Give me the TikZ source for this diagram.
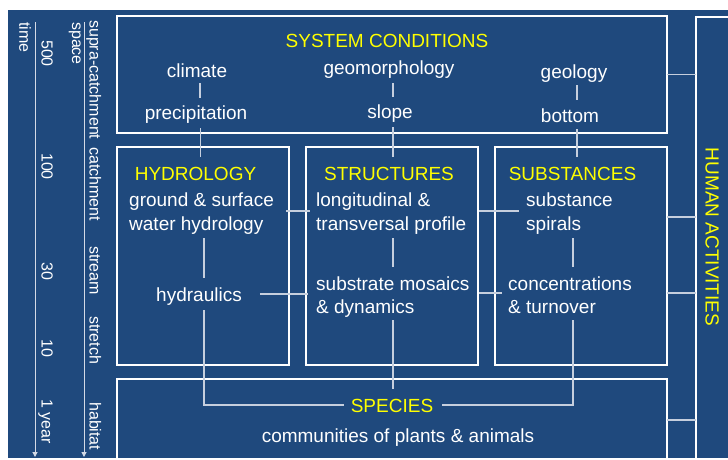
\documentclass[tikz,border=0pt]{standalone}
\usepackage{fontspec}
\setmainfont{Liberation Sans}
\usetikzlibrary{calc,arrows.meta}
\definecolor{bgblue}{RGB}{31,73,125}
\definecolor{hiyellow}{RGB}{255,255,0}
\definecolor{linkgray}{RGB}{198,207,222}
\definecolor{axisgray}{RGB}{212,218,230}
\newcommand\diagfont{\fontsize{19}{23}\selectfont}
\newcommand\axisfont{\fontsize{16}{19}\selectfont}
\begin{document}
\begin{tikzpicture}[x=1pt,y=-1pt,
  panel/.style={draw=white, line width=2.4pt, outer sep=0pt, inner sep=0pt},
  txt/.style={text=white, font=\diagfont, inner xsep=0pt, inner ysep=2pt,
              text height=14pt, text depth=4pt, anchor=base},
  ttl/.style={txt, text=hiyellow},
  lbl/.style={text=white, font=\axisfont, inner sep=0pt, rotate=-90, anchor=base west},
  conn/.style={draw=linkgray, line width=1.2pt},
  axisln/.style={draw=axisgray, line width=1pt, -{Triangle[width=5pt,length=5pt]}}]

\useasboundingbox (0,0) rectangle (728,459);
\fill[white] (0,0) rectangle (728,459);
\fill[bgblue] (8,10) rectangle (728,458);

\begin{scope}
\clip (8,10) rectangle (728,458);

% ---------- frames ----------
\node[panel, minimum width=550pt, minimum height=117pt] (sys) at (392,74.5) {};
\node[panel, minimum width=172pt, minimum height=218pt] (hyd) at (203,256) {};
\node[panel, minimum width=172pt, minimum height=218pt] (str) at (392,256) {};
\node[panel, minimum width=172pt, minimum height=218pt] (sub) at (581,256) {};
\node[panel, minimum width=550pt, minimum height=141pt] (spe) at (392,449.5) {};
\node[panel, minimum width=84pt, minimum height=503pt] (ha) at (738,268.5) {};

% ---------- system conditions ----------
\node[ttl] (sysT) at (387,47) {SYSTEM CONDITIONS};
\node[txt] (climate) at (197,77) {climate};
\node[txt] (geomorph) at (389,74) {geomorphology};
\node[txt] (geology) at (574,78) {geology};
\node[txt] (precip) at (196,119) {precipitation};
\node[txt] (slope) at (390,118) {slope};
\node[txt] (bottom) at (570,122) {bottom};

% ---------- hydrology ----------
\node[ttl] (hydT) at (195.5,180) {HYDROLOGY};
\node[txt, anchor=base west] (gs1) at (129,206) {ground \& surface};
\node[txt, anchor=base west] (gs2) at (129,230) {water hydrology};
\node[txt] (hydraulics) at (199,301) {hydraulics};

% ---------- structures ----------
\node[ttl] (strT) at (389,180) {STRUCTURES};
\node[txt, anchor=base west] (lt1) at (316,206) {longitudinal \&};
\node[txt, anchor=base west] (lt2) at (316,230) {transversal profile};
\node[txt, anchor=base west] (sm1) at (316,290) {substrate mosaics};
\node[txt, anchor=base west] (sm2) at (316,313) {\& dynamics};

% ---------- substances ----------
\node[ttl] (subT) at (572.5,180) {SUBSTANCES};
\node[txt, anchor=base west] (ss1) at (526,206) {substance};
\node[txt, anchor=base west] (ss2) at (526,230) {spirals};
\node[txt, anchor=base west] (ct1) at (508,290) {concentrations};
\node[txt, anchor=base west] (ct2) at (508,313) {\& turnover};

% ---------- species ----------
\node[ttl] (speT) at (392,412) {SPECIES};
\node[txt] (comm) at (398,442) {communities of plants \& animals};

% ---------- human activities ----------
\node[ttl, rotate=-90, anchor=center, text depth=0pt] (haT) at (712.5,237) {HUMAN ACTIVITIES};

% ---------- links inside system conditions ----------
\draw[conn] ($(climate.south)+(3,0)$) -- ($(climate.south |- precip.north)+(3,-5)$);
\draw[conn] ($(geomorph.south)+(4,3)$) -- ($(geomorph.south |- slope.north)+(4,-5)$);
\draw[conn] ($(geology.south)+(3,1)$) -- ($(geology.south |- bottom.north)+(3,-6)$);

% ---------- links down into the three compartments ----------
\draw[conn] ($(precip.south)+(4.5,3)$) -- ($(precip.south |- hydT.north)+(4.5,-7)$);
\draw[conn] ($(slope.south)+(3,3)$) -- ($(slope.south |- strT.north)+(3,-7)$);
\draw[conn] ($(bottom.south)+(7,1)$) -- ($(bottom.south |- subT.north)+(7,-7)$);

% ---------- links within compartments ----------
\draw[conn] ($(hydraulics.north |- gs2.south)+(5,2)$) -- ($(hydraulics.north)+(5,-7)$);
\draw[conn] ($(strT.south |- lt2.south)+(4,2)$) -- ($(strT.south |- sm1.north)+(4,-7)$);
\draw[conn] ($(subT.south |- ss2.south)+(0.5,2)$) -- ($(subT.south |- ct1.north)+(0.5,-7)$);

% ---------- links between compartments ----------
\draw[conn] ($(hyd.east)+(-3,-45)$) -- ($(str.west)+(4,-45)$);
\draw[conn] ($(str.east)+(1,-45)$) -- ($(ss1.west |- str.east)+(-7,-45)$);
\draw[conn] ($(hydraulics.east |- hyd.east)+(18,38)$) -- ($(str.west)+(2,38)$);
\draw[conn] ($(str.east)+(1,37)$) -- ($(ct1.west |- str.east)+(-6,37)$);

% ---------- links down to species ----------
\draw[conn] ($(hydraulics.south)+(5,3)$) |- ($(speT.west)+(-7,-2)$);
\draw[conn] ($(speT.north |- sm2.south)+(1,1)$) -- ($(speT.north)+(1,-7)$);
\draw[conn] ($(subT.south |- ct2.south)+(0.5,1)$) |- ($(speT.east)+(9,-2)$);

% ---------- links to human activities ----------
\draw[conn] (sys.east) -- (sys.east -| ha.west);
\draw[conn] ($(sub.east)+(0,-39)$) -- ($(sub.east -| ha.west)+(0,-39)$);
\draw[conn] ($(sub.east)+(0,37)$) -- ($(sub.east -| ha.west)+(0,37)$);
\draw[conn] ($(spe.east)+(0,-29.5)$) -- ($(spe.east -| ha.west)+(0,-29.5)$);

% ---------- scale axes ----------
\coordinate (tTop) at (35,22);
\coordinate (tEnd) at (35,457);
\coordinate (sTop) at (84,22);
\coordinate (sEnd) at (84,457);
\draw[axisln] (tTop) -- (tEnd);
\draw[axisln] (sTop) -- (sEnd);

\node[lbl] (lTime) at (19.5,22) {time};
\node[lbl] (lSpace) at (72,22) {space};
\node[lbl] (l500) at (41.5,40) {500};
\node[lbl] (l100) at (41.5,153) {100};
\node[lbl] (l30) at (41.5,262) {30};
\node[lbl] (l10) at (41.5,339) {10};
\node[lbl] (l1y) at (41.5,399) {1 year};
\node[lbl] (lSupra) at (89.5,20) {supra-catchment};
\node[lbl] (lCatch) at (89.5,147) {catchment};
\node[lbl] (lStream) at (89.5,246) {stream};
\node[lbl] (lStretch) at (89.5,316) {stretch};
\node[lbl] (lHab) at (89.5,402) {habitat};
\end{scope}
\end{tikzpicture}
\end{document}
